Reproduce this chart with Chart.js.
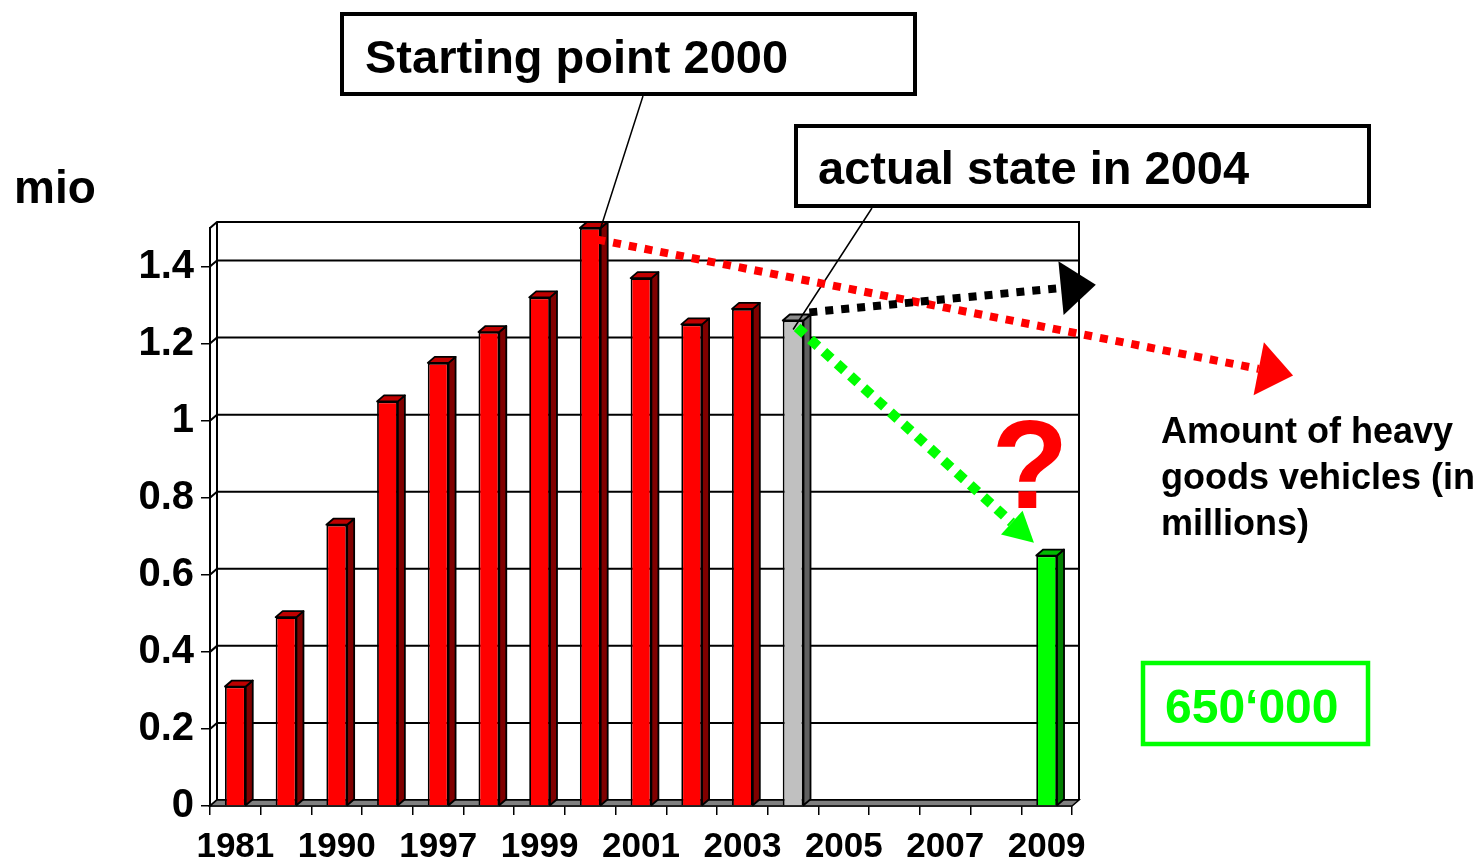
<!DOCTYPE html>
<html>
<head>
<meta charset="utf-8">
<title>Heavy goods vehicles</title>
<script src="https://cdn.jsdelivr.net/npm/chart.js@4.4.1/dist/chart.umd.min.js"></script>
<style>
  html, body { margin: 0; padding: 0; background: #fff; overflow: hidden; }
  #wrap { width: 1482px; height: 862px; }
</style>
</head>
<body>
<div id="wrap"><canvas id="hgvChart" width="1482" height="862"></canvas></div>
<script>
// years on the category axis (only every other one gets a label)
const years = ['1981', '1985', '1990', '1995', '1997', '1998', '1999', '2000', '2001',
               '2002', '2003', '2004', '2005', '2006', '2007', '2008', '2009'];
// heavy goods vehicles, millions
const vehicles = [0.31, 0.49, 0.73, 1.05, 1.15, 1.23, 1.32, 1.50, 1.37,
                  1.25, 1.29, 1.26, null, null, null, null, 0.65];
const yTicks = [0, 0.2, 0.4, 0.6, 0.8, 1, 1.2, 1.4];

const FONT = "'Liberation Sans', Arial, Helvetica, sans-serif";
const DX = 7, DY = -6; // 3d depth of the wall and bars

const actualYear = '2004', targetYear = '2009';
function faceColors(i) {
  if (years[i] === actualYear) return { front: '#C0C0C0', side: '#606060', top: '#8C8C8C' };
  if (years[i] === targetYear) return { front: '#00FF00', side: '#008000', top: '#00BB00' };
  return { front: '#FF0000', side: '#800000', top: '#C00000' };
}

// trend arrows, given in (category index, value) so they go through the scales
const trendArrows = [
  { from: [7.14, 1.47], to: [20.86, 1.117], color: '#FF0000', width: 8, dash: [8, 8], head: [35, 27] },
  { from: [11.32, 1.281], to: [16.97, 1.353], color: '#000000', width: 8, dash: [8, 8], head: [35, 27] },
  { from: [11.08, 1.242], to: [15.75, 0.683], color: '#00FF00', width: 10, dash: [10, 8], head: [30, 16] }
];

function poly(ctx, pts, fill) {
  ctx.beginPath();
  ctx.moveTo(pts[0][0], pts[0][1]);
  for (let k = 1; k < pts.length; k++) ctx.lineTo(pts[k][0], pts[k][1]);
  ctx.closePath();
  if (fill) { ctx.fillStyle = fill; ctx.fill(); }
  ctx.stroke();
}

const wall3d = {
  id: 'wall3d',
  beforeDatasetsDraw(chart) {
    const { ctx, chartArea: a, scales: { y } } = chart;
    ctx.save();
    ctx.strokeStyle = '#000';
    ctx.lineWidth = 2;
    // back wall grid lines + side wall diagonals
    yTicks.forEach(v => {
      const py = y.getPixelForValue(v);
      ctx.beginPath();
      ctx.moveTo(a.left, py);
      ctx.lineTo(a.left + DX, py + DY);
      ctx.lineTo(a.right + DX, py + DY);
      ctx.stroke();
    });
    // back wall frame
    ctx.beginPath();
    ctx.moveTo(a.left, a.top);
    ctx.lineTo(a.left + DX, a.top + DY);
    ctx.lineTo(a.right + DX, a.top + DY);
    ctx.lineTo(a.right + DX, a.bottom + DY);
    ctx.moveTo(a.left + DX, a.top + DY);
    ctx.lineTo(a.left + DX, a.bottom + DY);
    ctx.stroke();
    // floor
    ctx.lineWidth = 1.5;
    poly(ctx, [[a.left, a.bottom], [a.right, a.bottom], [a.right + DX, a.bottom + DY], [a.left + DX, a.bottom + DY]], '#808080');
    ctx.restore();
  },
  afterDatasetsDraw(chart) {
    const { ctx } = chart;
    const meta = chart.getDatasetMeta(0);
    ctx.save();
    ctx.strokeStyle = '#000';
    ctx.lineWidth = 1.8;
    ctx.lineJoin = 'round';
    meta.data.forEach((bar, i) => {
      if (vehicles[i] == null) return;
      const { x, y, base, width } = bar.getProps(['x', 'y', 'base', 'width'], true);
      const l = x - width / 2, r = x + width / 2;
      const c = faceColors(i);
      poly(ctx, [[r, y], [r + DX, y + DY], [r + DX, base + DY], [r, base]], c.side);
      poly(ctx, [[l, y], [l + DX, y + DY], [r + DX, y + DY], [r, y]], c.top);
    });
    ctx.restore();
  }
};

function drawArrow(ctx, p0, p1, a) {
  const dx = p1[0] - p0[0], dy = p1[1] - p0[1];
  const len = Math.hypot(dx, dy);
  const ux = dx / len, uy = dy / len;
  const bx = p1[0] - ux * a.head[0], by = p1[1] - uy * a.head[0];
  const hw = a.head[1];
  ctx.save();
  ctx.strokeStyle = a.color;
  ctx.lineWidth = a.width;
  ctx.setLineDash(a.dash);
  ctx.beginPath();
  ctx.moveTo(p0[0], p0[1]);
  ctx.lineTo(bx, by);
  ctx.stroke();
  ctx.setLineDash([]);
  ctx.fillStyle = a.color;
  ctx.beginPath();
  ctx.moveTo(p1[0], p1[1]);
  ctx.lineTo(bx - uy * hw, by + ux * hw);
  ctx.lineTo(bx + uy * hw, by - ux * hw);
  ctx.closePath();
  ctx.fill();
  ctx.restore();
}

const annotations = {
  id: 'annotations',
  afterDraw(chart) {
    const { ctx, scales: { x, y } } = chart;
    const meta = chart.getDatasetMeta(0);
    const toPx = p => [x.getPixelForValue(p[0]), y.getPixelForValue(p[1])];
    ctx.save();

    // unit label
    ctx.fillStyle = '#000';
    ctx.font = 'bold 46px ' + FONT;
    ctx.textBaseline = 'alphabetic';
    ctx.fillText('mio', 14, 203);

    // callout lines to the bars
    const b2000 = meta.data[years.indexOf('2000')];
    const b2004 = meta.data[years.indexOf(actualYear)];
    ctx.strokeStyle = '#000';
    ctx.lineWidth = 1.5;
    ctx.beginPath();
    ctx.moveTo(643, 96);
    ctx.lineTo(b2000.x + b2000.width / 2, b2000.y);
    ctx.moveTo(872, 208);
    ctx.lineTo(b2004.x, b2004.y + 9);
    ctx.stroke();

    // trend arrows
    trendArrows.forEach(a => drawArrow(ctx, toPx(a.from), toPx(a.to), a));

    // callout boxes
    ctx.lineWidth = 4;
    ctx.fillStyle = '#fff';
    ctx.fillRect(342, 14, 573, 80);
    ctx.strokeRect(342, 14, 573, 80);
    ctx.fillRect(796, 126, 573, 80);
    ctx.strokeRect(796, 126, 573, 80);
    ctx.fillStyle = '#000';
    ctx.font = 'bold 47px ' + FONT;
    ctx.fillText('Starting point 2000', 365, 73);
    ctx.fillText('actual state in ' + actualYear, 818, 184);

    // question mark
    ctx.fillStyle = '#FF0000';
    ctx.font = 'bold 126px ' + FONT;
    ctx.textAlign = 'center';
    ctx.fillText('?', 1030, 508);
    ctx.textAlign = 'left';

    // series description
    ctx.fillStyle = '#000';
    ctx.font = 'bold 36px ' + FONT;
    ['Amount of heavy', 'goods vehicles (in', 'millions)'].forEach((t, k) => {
      ctx.fillText(t, 1161, 443 + k * 46);
    });

    // target value box
    ctx.strokeStyle = '#00FF00';
    ctx.lineWidth = 4.5;
    ctx.strokeRect(1143, 663, 225, 81);
    ctx.fillStyle = '#00FF00';
    ctx.font = 'bold 48px ' + FONT;
    ctx.fillText('650\u2018000', 1165, 723);
    ctx.restore();
  }
};

new Chart(document.getElementById('hgvChart'), {
  type: 'bar',
  data: {
    labels: years,
    datasets: [{
      label: 'Amount of heavy goods vehicles (in millions)',
      data: vehicles,
      backgroundColor: years.map((_, i) => faceColors(i).front),
      borderColor: '#000',
      borderWidth: 1.8,
      barPercentage: 0.41,
      categoryPercentage: 1,
      clip: false
    }]
  },
  options: {
    responsive: false,
    animation: false,
    devicePixelRatio: 1,
    layout: { padding: { top: 228, right: 410, left: 0, bottom: 0 } },
    plugins: { legend: { display: false }, tooltip: { enabled: false } },
    scales: {
      x: {
        grid: { display: true, drawOnChartArea: false, drawTicks: true, tickLength: 9, color: '#000', lineWidth: 1.5, offset: true },
        border: { display: true, color: '#000', width: 1.5 },
        ticks: {
          autoSkip: false, maxRotation: 0, padding: 11, color: '#000',
          font: { family: FONT, size: 35, weight: 'bold' },
          callback: (v, i) => (i % 2 === 0 ? years[i] : '')
        },
        afterFit: s => { s.height = 56; }
      },
      y: {
        min: 0, max: 1.5,
        grid: { display: true, drawOnChartArea: false, drawTicks: true, tickLength: 9, color: '#000', lineWidth: 1.5 },
        border: { display: true, color: '#000', width: 2 },
        afterBuildTicks: s => { s.ticks = yTicks.map(v => ({ value: v })); },
        ticks: {
          padding: 7, color: '#000',
          font: { family: FONT, size: 40, weight: 'bold' },
          callback: v => String(+v.toFixed(1))
        },
        afterFit: s => { s.width = 210; }
      }
    }
  },
  plugins: [wall3d, annotations]
});
</script>
</body>
</html>
